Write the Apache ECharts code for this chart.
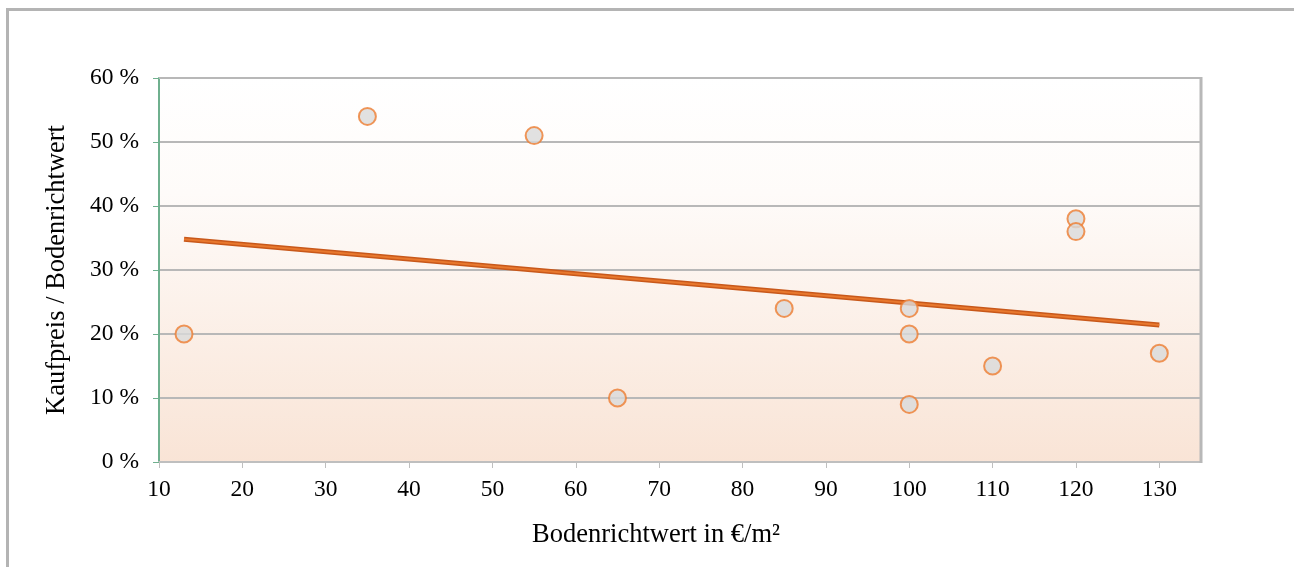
<!DOCTYPE html>
<html>
<head>
<meta charset="utf-8">
<script src="https://cdn.jsdelivr.net/npm/echarts@6/dist/echarts.min.js"></script>
<style>
html,body{margin:0;padding:0;background:#fff;}
#frame{position:absolute;left:6px;top:8px;width:1300px;height:600px;border-left:3px solid #b4b4b4;border-top:3px solid #b4b4b4;}
#chart{position:absolute;left:0;top:0;width:1294px;height:567px;}
</style>
</head>
<body>
<div id="frame"></div>
<div id="chart"></div>
<script>
const xValues = [13, 35, 55, 65, 85, 100, 100, 100, 110, 120, 120, 130];
const yValues = [20, 54, 51, 10, 24, 24, 20, 9, 15, 38, 36, 17];
const trendX = [13, 130];
const trendY = [34.8, 21.4];
const xTicks = [10, 20, 30, 40, 50, 60, 70, 80, 90, 100, 110, 120, 130];
const yTicks = [0, 10, 20, 30, 40, 50, 60];

const points = xValues.map((x, i) => [x, yValues[i]]);
const trend = trendX.map((x, i) => [x, trendY[i]]);

const chart = echarts.init(document.getElementById('chart'), null, {renderer: 'canvas'});
const font = '"Liberation Serif", "Times New Roman", serif';
chart.setOption({
  animation: false,
  backgroundColor: 'transparent',
  grid: {
    left: 159, top: 78, right: 93, bottom: 105,
    show: true,
    borderWidth: 0,
    backgroundColor: {
      type: 'linear', x: 0, y: 0, x2: 0, y2: 1,
      colorStops: [
        {offset: 0, color: '#ffffff'},
        {offset: 0.3, color: '#fefbf9'},
        {offset: 1, color: '#f9e4d6'}
      ]
    }
  },
  xAxis: {
    type: 'value',
    min: 10, max: 135, interval: 10,
    name: 'Bodenrichtwert in €/m²',
    nameLocation: 'middle',
    nameGap: 60,
    nameTextStyle: {fontFamily: font, fontSize: 26.5, color: '#000', padding: [0, 48, 0, 0]},
    axisLine: {show: true, lineStyle: {color: '#bfbfbf', width: 2}},
    axisTick: {show: true, length: 6, lineStyle: {color: '#bfbfbf', width: 1}},
    axisLabel: {fontFamily: font, fontSize: 23.5, color: '#000', margin: 16, showMaxLabel: false,
      formatter: v => xTicks.includes(v) ? String(v) : ''},
    splitLine: {show: false}
  },
  yAxis: {
    type: 'value',
    min: 0, max: 60, interval: 10,
    name: 'Kaufpreis / Bodenrichtwert',
    nameLocation: 'middle',
    nameGap: 88,
    nameRotate: 90,
    nameTextStyle: {fontFamily: font, fontSize: 26.5, color: '#000'},
    axisLine: {show: true, lineStyle: {color: '#6fb08e', width: 2}},
    axisTick: {show: true, length: 6, lineStyle: {color: '#6fb08e', width: 1}},
    axisLabel: {fontFamily: font, fontSize: 23.5, color: '#000', margin: 20,
      formatter: v => yTicks.includes(v) ? v + ' %' : ''},
    splitLine: {show: true, lineStyle: {color: '#b8b8b8', width: 2}}
  },
  series: [
    {
      type: 'line',
      data: trend,
      symbol: 'none',
      lineStyle: {color: '#c8581a', width: 5},
      z: 2,
      silent: true
    },
    {
      type: 'line',
      data: trend,
      symbol: 'none',
      lineStyle: {color: '#e8782e', width: 2},
      z: 3,
      silent: true
    },
    {
      type: 'scatter',
      data: points,
      symbol: 'circle',
      symbolSize: 17,
      itemStyle: {color: '#d9d9d9', borderColor: '#ed7d31', borderWidth: 2},
      z: 5
    }
  ],
  graphic: [
    {type: 'line', shape: {x1: 159, y1: 78, x2: 1201, y2: 78}, style: {stroke: '#b8b8b8', lineWidth: 2}, z: 1},
    {type: 'line', shape: {x1: 1201, y1: 77, x2: 1201, y2: 463}, style: {stroke: '#b8b8b8', lineWidth: 3}, z: 1}
  ]
});
</script>
</body>
</html>
